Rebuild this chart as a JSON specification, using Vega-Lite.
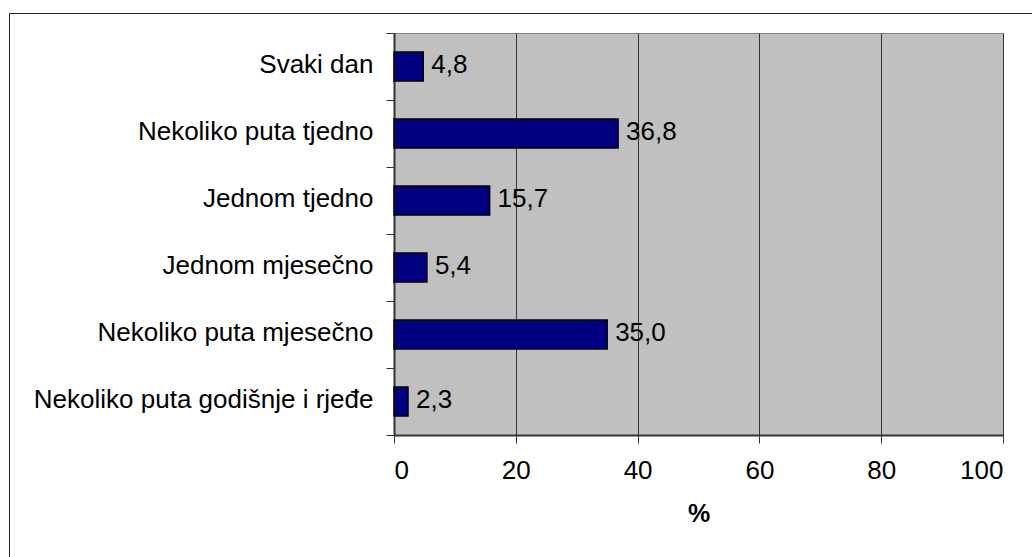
{
  "$schema": "https://vega.github.io/schema/vega-lite/v6.json",
  "width": 609,
  "height": 402,
  "autosize": {"type": "none"},
  "padding": {"left": 394, "top": 33, "right": 29, "bottom": 122},
  "background": "white",
  "config": {
    "locale": {"number": {"decimal": ",", "thousands": ".", "grouping": [3], "currency": ["", ""]}},
    "font": "Liberation Sans",
    "view": {"fill": "#C0C0C0", "stroke": "#808080", "strokeWidth": 1}
  },
  "data": {
    "values": [
      {"kategorija": "Svaki dan", "postotak": 4.8},
      {"kategorija": "Nekoliko puta tjedno", "postotak": 36.8},
      {"kategorija": "Jednom tjedno", "postotak": 15.7},
      {"kategorija": "Jednom mjesečno", "postotak": 5.4},
      {"kategorija": "Nekoliko puta mjesečno", "postotak": 35.0},
      {"kategorija": "Nekoliko puta godišnje i rjeđe", "postotak": 2.3}
    ]
  },
  "encoding": {
    "y": {
      "field": "kategorija",
      "type": "nominal",
      "sort": null,
      "scale": {"paddingInner": 0, "paddingOuter": 0},
      "axis": {
        "title": null,
        "tickBand": "extent",
        "tickSize": 8,
        "tickColor": "#333333",
        "domainColor": "#333333",
        "domainWidth": 2,
        "labelFontSize": 26,
        "labelColor": "black",
        "labelPadding": 13,
        "labelLimit": 0,
        "labelOffset": -2,
        "grid": false
      }
    },
    "x": {
      "field": "postotak",
      "type": "quantitative",
      "scale": {"domain": [0, 100], "nice": false},
      "axis": {
        "title": "%",
        "values": [0, 20, 40, 60, 80, 100],
        "format": "d",
        "grid": true,
        "gridColor": "#333333",
        "gridOpacity": 1,
        "tickSize": 8,
        "tickColor": "#333333",
        "domainColor": "#333333",
        "domainWidth": 2,
        "labelFontSize": 26,
        "labelColor": "black",
        "labelPadding": 14,
        "titleFontSize": 25,
        "titleFontWeight": "bold",
        "titleColor": "black",
        "titlePadding": 18
      }
    }
  },
  "layer": [
    {
      "mark": {"type": "bar", "height": {"band": 0.43}, "stroke": "black", "strokeWidth": 1.5},
      "encoding": {
        "color": {
          "datum": "okvir",
          "scale": {"range": ["#000080"]},
          "legend": {
            "title": null,
            "orient": "none",
            "legendX": -385,
            "legendY": -20,
            "padding": 530,
            "strokeColor": "#222222",
            "symbolSize": 0,
            "symbolOpacity": 0,
            "labelExpr": "''",
            "labelFontSize": 1
          }
        }
      }
    },
    {
      "mark": {"type": "text", "align": "left", "baseline": "middle", "dx": 8, "dy": -2, "fontSize": 26, "color": "black"},
      "encoding": {
        "text": {"field": "postotak", "type": "quantitative", "format": ".1f"}
      }
    }
  ]
}
